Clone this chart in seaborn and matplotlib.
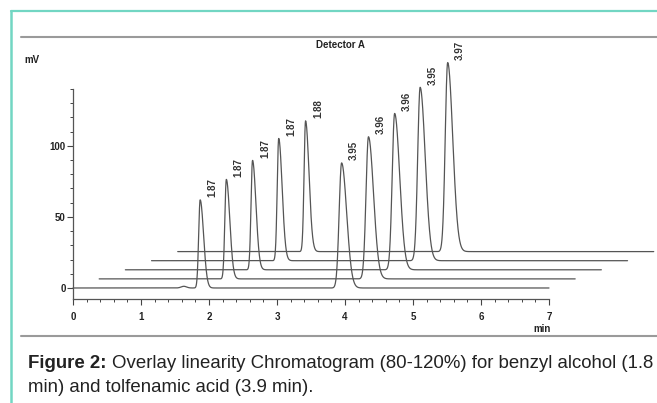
import numpy as np
import pandas as pd
import matplotlib
matplotlib.use("Agg")
import matplotlib.pyplot as plt
from matplotlib.lines import Line2D
from matplotlib.ticker import MultipleLocator
import seaborn as sns

# Five overlaid injections, 80-120 % of nominal concentration
levels = ["80%", "90%", "100%", "110%", "120%"]
rt_benzyl = [1.87, 1.87, 1.87, 1.87, 1.88]      # min
rt_tolfen = [3.95, 3.96, 3.96, 3.95, 3.97]      # min
h_benzyl = [62, 70, 77, 86, 92]                 # mV
h_tolfen = [88, 100, 110, 122, 133]             # mV
# small baseline disturbance seen on the first run only
rt_minor = [1.63, None, None, None, None]
h_minor = [1.2, 0, 0, 0, 0]

x_ticks = [0, 1, 2, 3, 4, 5, 6, 7]
y_ticks = [0, 50, 100]

# overlay stagger between successive runs
shift_min = 0.385
shift_mv = 6.4
run_min = 7.0

sns.set_theme(style="white")
plt.rcParams["font.family"] = ["Liberation Sans", "DejaVu Sans"]

W, H = 657, 403
fig = plt.figure(figsize=(W / 100, H / 100), dpi=100)
fig.patch.set_facecolor("white")


def px_box(l, t, r, b):
    return [l / W, 1 - b / H, (r - l) / W, (b - t) / H]


ax = fig.add_axes(px_box(73, 89, 657, 299))
ax.set_facecolor("none")


def peak(t, rt, h, sl, sr):
    z = np.where(t < rt, (t - rt) / sl, (t - rt) / sr)
    return h * np.exp(-0.5 * z ** 2)


t = np.linspace(0, run_min, 4001)
frames = []
for k, lvl in enumerate(levels):
    sig = (peak(t, rt_benzyl[k], h_benzyl[k], 0.022, 0.05)
           + peak(t, rt_tolfen[k], h_tolfen[k], 0.036, 0.074))
    if rt_minor[k] is not None:
        sig = sig + peak(t, rt_minor[k], h_minor[k], 0.04, 0.04)
    frames.append(pd.DataFrame({
        "time": t + k * shift_min,
        "signal": sig + k * shift_mv,
        "level": lvl,
    }))
df = pd.concat(frames, ignore_index=True)

trace_col = "#555555"
sns.lineplot(data=df, x="time", y="signal", units="level", estimator=None,
             color=trace_col, lw=0.9, ax=ax, legend=False, sort=False)
for ln in ax.lines:
    ln.set_clip_on(False)

# retention-time labels above each apex
lab_kw = dict(rotation=90, ha="center", va="bottom", fontsize=7,
              fontweight="bold", color="#333333", textcoords="offset points",
              annotation_clip=False)
for k in range(len(levels)):
    for rt, h in ((rt_benzyl[k], h_benzyl[k]), (rt_tolfen[k], h_tolfen[k])):
        x0 = rt + k * shift_min
        y0 = h + k * shift_mv
        ax.annotate(f"{rt:.2f}", (x0, y0), xytext=(9, 2), **lab_kw)

ax.set_xlim(0, (657 - 73) / 68)
ax.set_ylim(-7.75, 140)
ax.set_xlabel("")
ax.set_ylabel("")

for s in ("top", "right"):
    ax.spines[s].set_visible(False)
for s in ("left", "bottom"):
    ax.spines[s].set_color("#555555")
    ax.spines[s].set_linewidth(0.9)
ax.spines["bottom"].set_bounds(0, 7)

ax.set_xticks(x_ticks)
ax.set_xticklabels([str(v) for v in x_ticks])
ax.set_yticks(y_ticks)
ax.set_yticklabels([str(v) for v in y_ticks])
ax.yaxis.set_minor_locator(MultipleLocator(10))
ax.set_xticks([v for v in np.arange(0, 7.01, 0.2)], minor=True)

ax.tick_params(axis="both", which="major", direction="out", colors="#444444",
               labelcolor="#222222", labelsize=7, width=0.8)
ax.tick_params(axis="x", which="major", length=4.5, pad=4.5, bottom=True)
ax.tick_params(axis="y", which="major", length=4.5, pad=0.8, left=True)
ax.tick_params(axis="both", which="minor", direction="out", length=2.2,
               width=0.7, color="#444444", bottom=True, left=True)
for lbl in ax.get_xticklabels() + ax.get_yticklabels():
    lbl.set_fontweight("bold")

# chart annotations
fig.text(32 / W, 1 - 60 / H, "mV", fontsize=7, fontweight="bold",
         ha="center", va="center", color="#222222")
fig.text(340 / W, 1 - 45 / H, "Detector A", fontsize=7, fontweight="bold",
         ha="center", va="center", color="#222222")
fig.text(542 / W, 1 - 329 / H, "min", fontsize=7, fontweight="bold",
         ha="center", va="center", color="#222222")

# page frame
teal = "#72d6c3"
fig.add_artist(Line2D([11 / W, 1], [1 - 11 / H] * 2, color=teal, lw=1.6,
                      transform=fig.transFigure))
fig.add_artist(Line2D([11 / W] * 2, [0, 1 - 11 / H], color=teal, lw=1.8,
                      transform=fig.transFigure))
for yp in (36.5, 336):
    fig.add_artist(Line2D([21 / W, 1], [1 - yp / H] * 2, color="#9a9a9a",
                          lw=1.5, transform=fig.transFigure))

# caption
cap_size = 13.45
fig.canvas.draw()
rend = fig.canvas.get_renderer()
bold = fig.text(28 / W, 1 - 368 / H, "Figure 2:", fontsize=cap_size,
                fontweight="bold", color="#222222", va="baseline")
bb = bold.get_window_extent(renderer=rend)
fig.text((bb.x1 + 6) / W, 1 - 368 / H,
         "Overlay linearity Chromatogram (80-120%) for benzyl alcohol (1.8",
         fontsize=cap_size, color="#222222", va="baseline")
fig.text(28 / W, 1 - 392 / H, "min) and tolfenamic acid (3.9 min).",
         fontsize=cap_size, color="#222222", va="baseline")

fig.savefig("out.png", dpi=100, facecolor="white")
